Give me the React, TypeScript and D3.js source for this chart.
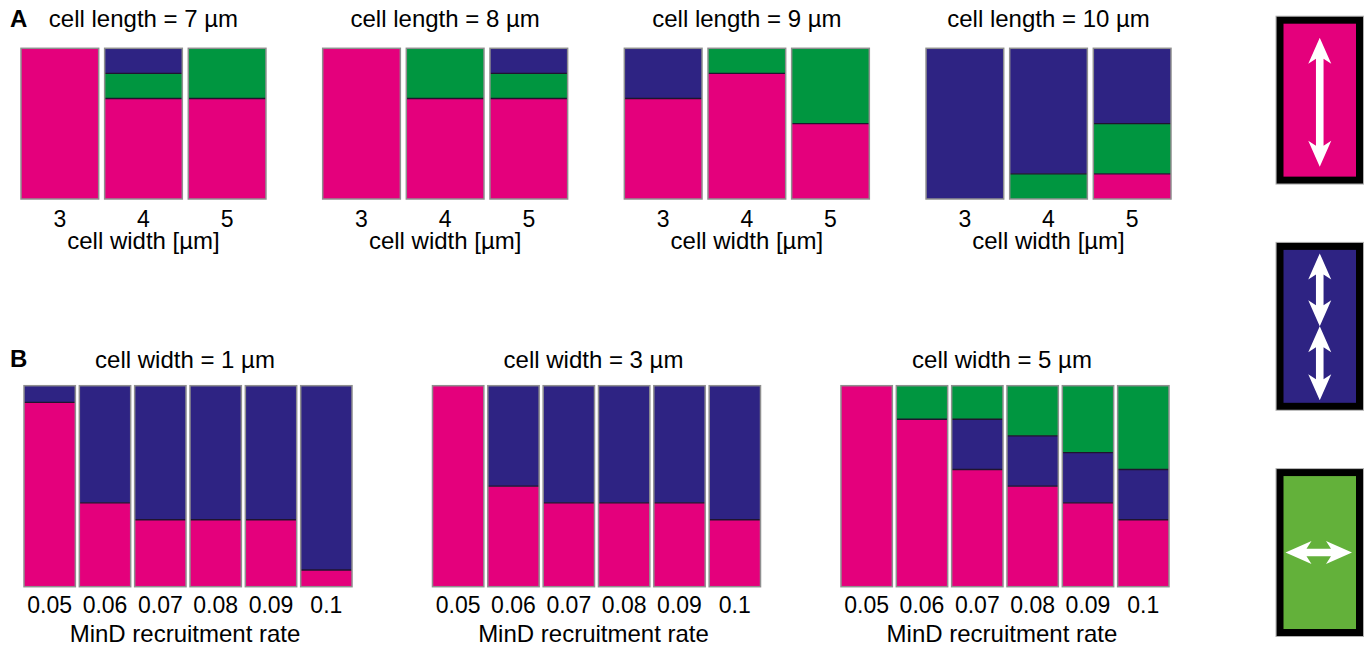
import React from 'react';
import * as d3 from 'd3';

// panel A: cell length groups x cell width categories
const lengthGroups = ['7', '8', '9', '10'];
const widthCats = ['3', '4', '5'];
const aPink = [[1, 0.667, 0.667], [1, 0.667, 0.667], [0.667, 0.833, 0.5], [0, 0, 0.167]];
const aGreen = [[0, 0.167, 0.333], [0, 0.333, 0.167], [0, 0.167, 0.5], [0, 0.167, 0.333]];
const aBlue = [[0, 0.167, 0], [0, 0, 0.167], [0.333, 0, 0], [1, 0.833, 0.5]];

// panel B: cell width groups x MinD recruitment rate
const widthGroups = ['1', '3', '5'];
const rateCats = ['0.05', '0.06', '0.07', '0.08', '0.09', '0.1'];
const bPink = [[0.917, 0.417, 0.333, 0.333, 0.333, 0.083], [1, 0.5, 0.417, 0.417, 0.417, 0.333], [1, 0.833, 0.583, 0.5, 0.417, 0.333]];
const bBlue = [[0.083, 0.583, 0.667, 0.667, 0.667, 0.917], [0, 0.5, 0.583, 0.583, 0.583, 0.667], [0, 0, 0.25, 0.25, 0.25, 0.25]];
const bGreen = [[0, 0, 0, 0, 0, 0], [0, 0, 0, 0, 0, 0], [0, 0.167, 0.167, 0.25, 0.333, 0.417]];

const legendModes = ['pole-to-pole', 'double', 'transverse'];

const colors: Record<string, string> = { pink: '#e4007c', green: '#009640', blue: '#2e2383' };
const legendColors = ['#e4007c', '#2e2383', '#63b13a'];
const font = '"Liberation Sans", Arial, Helvetica, sans-serif';

type Row = { cat: string; pink: number; green: number; blue: number };

function StackGroup({ rows, keys, x, y }: { rows: Row[]; keys: string[]; x: d3.ScaleBand<string>; y: d3.ScaleLinear<number, number> }) {
  const series = d3.stack<Row>().keys(keys)(rows);
  return (
    <g>
      {series.map((s) =>
        s.map((d, i) =>
          d[1] - d[0] > 0.001 ? (
            <rect key={s.key + i} x={x(rows[i].cat)} width={x.bandwidth()} y={y(d[1])} height={y(d[0]) - y(d[1])} fill={colors[s.key]} />
          ) : null
        )
      )}
      {series.map((s) =>
        s.map((d, i) =>
          d[1] - d[0] > 0.001 && d[1] < 0.99 ? (
            <line key={'l' + s.key + i} x1={x(rows[i].cat)} x2={(x(rows[i].cat) as number) + x.bandwidth()} y1={y(d[1])} y2={y(d[1])} stroke="#20142e" strokeWidth={1.3} />
          ) : null
        )
      )}
      {rows.map((r) => (
        <rect key={'o' + r.cat} x={x(r.cat)} width={x.bandwidth()} y={y(1)} height={y(0) - y(1)} fill="none" stroke="#8f8f8f" strokeWidth={1.5} />
      ))}
    </g>
  );
}

function DoubleArrow({ x1, y1, x2, y2 }: { x1: number; y1: number; x2: number; y2: number }) {
  // arrow along the segment, drawn in local coords then rotated
  const len = Math.hypot(x2 - x1, y2 - y1);
  const ang = (Math.atan2(y2 - y1, x2 - x1) * 180) / Math.PI;
  const hl = 26, hw = 11.5, sw = 3.8, notch = 21;
  const p = [
    [0, 0], [hl, -hw], [notch, -sw], [len - notch, -sw], [len - hl, -hw], [len, 0],
    [len - hl, hw], [len - notch, sw], [notch, sw], [hl, hw],
  ];
  return <path d={d3.line()(p as [number, number][]) + 'Z'} fill="#fff" transform={`translate(${x1},${y1}) rotate(${ang})`} />;
}

export default function App() {
  const W = 1368, H = 654;

  const outerA = d3.scaleBand<string>().domain(lengthGroups).range([21, 1171]).paddingInner(0.188);
  const yA = d3.scaleLinear().domain([0, 1]).range([199, 48.3]);
  const outerB = d3.scaleBand<string>().domain(widthGroups).range([24, 1169]).paddingInner(0.197);
  const yB = d3.scaleLinear().domain([0, 1]).range([586.7, 385.7]);

  const legendY = d3.scaleBand<string>().domain(legendModes).range([16.7, 636]).paddingInner(0.262);

  return (
    <svg width={W} height={H} style={{ position: 'absolute', left: 0, top: 0, background: '#fff' }} fontFamily={font}>
      <text x={10} y={27} fontSize={24} fontWeight="bold">A</text>
      {lengthGroups.map((g, gi) => {
        const x0 = outerA(g) as number;
        const x = d3.scaleBand<string>().domain(widthCats).range([x0, x0 + outerA.bandwidth()]).paddingInner(0.0714);
        const rows: Row[] = widthCats.map((c, ci) => ({ cat: c, pink: aPink[gi][ci], green: aGreen[gi][ci], blue: aBlue[gi][ci] }));
        const cx = x0 + outerA.bandwidth() / 2;
        return (
          <g key={g}>
            <text x={cx} y={27} fontSize={24} textAnchor="middle">{`cell length = ${g} µm`}</text>
            <StackGroup rows={rows} keys={['pink', 'green', 'blue']} x={x} y={yA} />
            {widthCats.map((c) => (
              <text key={c} x={(x(c) as number) + x.bandwidth() / 2} y={227} fontSize={23} textAnchor="middle">{c}</text>
            ))}
            <text x={cx} y={248.5} fontSize={24} textAnchor="middle">cell width [µm]</text>
          </g>
        );
      })}

      <text x={10} y={367} fontSize={24} fontWeight="bold">B</text>
      {widthGroups.map((g, gi) => {
        const x0 = outerB(g) as number;
        const x = d3.scaleBand<string>().domain(rateCats).range([x0, x0 + outerB.bandwidth()]).paddingInner(0.072);
        const rows: Row[] = rateCats.map((c, ci) => ({ cat: c, pink: bPink[gi][ci], green: bGreen[gi][ci], blue: bBlue[gi][ci] }));
        const cx = x0 + outerB.bandwidth() / 2;
        return (
          <g key={g}>
            <text x={cx - 3} y={368} fontSize={24} textAnchor="middle">{`cell width = ${g} µm`}</text>
            <StackGroup rows={rows} keys={['pink', 'blue', 'green']} x={x} y={yB} />
            {rateCats.map((c) => (
              <text key={c} x={(x(c) as number) + x.bandwidth() / 2} y={613} fontSize={23} textAnchor="middle">{c}</text>
            ))}
            <text x={cx - 3} y={642} fontSize={24} textAnchor="middle">MinD recruitment rate</text>
          </g>
        );
      })}

      {legendModes.map((m, i) => {
        const y0 = legendY(m) as number;
        const h = legendY.bandwidth();
        const bx = 1276.5, bw = 86.5;
        const cx = bx + bw / 2;
        const inner = { x: bx + 7, y: y0 + 7, w: bw - 14, h: h - 14 };
        return (
          <g key={m}>
            <rect x={bx - 0.5} y={y0 - 0.5} width={bw + 1} height={h + 1} fill="none" stroke="#b0b0b0" strokeWidth={1} />
            <rect x={bx + 3.5} y={y0 + 3.5} width={bw - 7} height={h - 7} fill={legendColors[i]} stroke="#000" strokeWidth={7} />
            {m === 'pole-to-pole' && <DoubleArrow x1={cx} y1={y0 + 21} x2={cx} y2={y0 + 150} />}
            {m === 'double' && (
              <g>
                <DoubleArrow x1={cx} y1={inner.y + 3.5} x2={cx} y2={inner.y + inner.h / 2} />
                <DoubleArrow x1={cx} y1={inner.y + inner.h / 2} x2={cx} y2={inner.y + inner.h - 2.5} />
              </g>
            )}
            {m === 'transverse' && <DoubleArrow x1={inner.x + 2} y1={y0 + h / 2} x2={inner.x + inner.w - 4} y2={y0 + h / 2} />}
          </g>
        );
      })}
    </svg>
  );
}
